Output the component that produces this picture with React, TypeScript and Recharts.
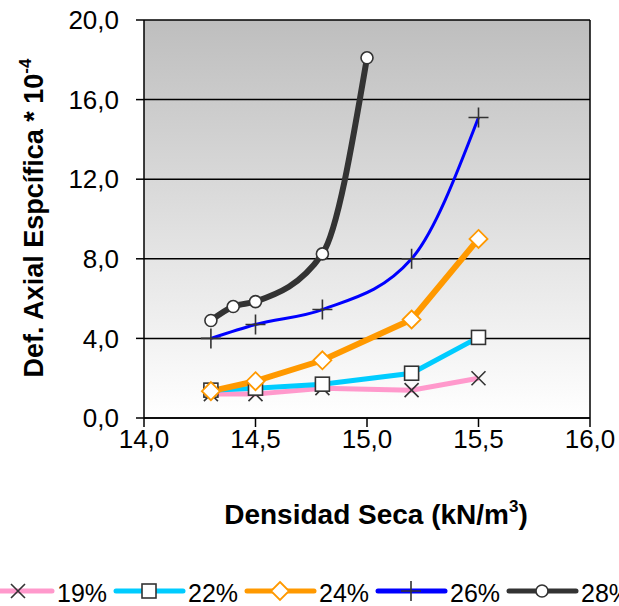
import React from "react";
import {
    LineChart,
    Line,
    XAxis,
    YAxis,
    CartesianGrid,
    ReferenceLine,
    Label,
} from "recharts";

// densidad seca (kN/m3) for each humidity series
const densities = [14.3, 14.5, 14.8, 15.2, 15.5];
const densities28 = [14.3, 14.4, 14.5, 14.8, 15.0];

// def. axial especifica * 10^-4
const def19 = [1.2, 1.2, 1.5, 1.4, 2.0];
const def22 = [1.4, 1.5, 1.7, 2.25, 4.05];
const def24 = [1.35, 1.85, 2.9, 4.95, 9.0];
const def26 = [4.0, 4.7, 5.45, 8.0, 15.1];
const def28 = [4.9, 5.6, 5.85, 8.25, 18.1];

const xTicks = [14, 14.5, 15, 15.5, 16];
const yTicks = [0, 4, 8, 12, 16, 20];
const seriesNames = ["19%", "22%", "24%", "26%", "28%"];

const FONT = "'Liberation Sans', Arial, sans-serif";
const DARK = "#333333";

const toPoints = (xs: number[], ys: number[]) => xs.map((x, i) => ({ x, y: ys[i] }));

const fmt = (v: number) => v.toFixed(1).replace(".", ",");

type MarkerKind = "x" | "square" | "diamond" | "plus" | "circle";

function Marker({ kind, cx, cy, color }: { kind: MarkerKind; cx: number; cy: number; color: string }) {
    switch (kind) {
        case "x":
            return (
                <path
                    d={`M${cx - 7},${cy - 7}L${cx + 7},${cy + 7}M${cx - 7},${cy + 7}L${cx + 7},${cy - 7}`}
                    stroke={DARK}
                    strokeWidth={1.6}
                />
            );
        case "square":
            return <rect x={cx - 7} y={cy - 7} width={14} height={14} fill="#fff" stroke={DARK} strokeWidth={1.6} />;
        case "diamond":
            return (
                <path
                    d={`M${cx},${cy - 9}L${cx + 9},${cy}L${cx},${cy + 9}L${cx - 9},${cy}Z`}
                    fill="#fff"
                    stroke={color}
                    strokeWidth={1.8}
                />
            );
        case "plus":
            return (
                <path
                    d={`M${cx - 10},${cy}L${cx + 10},${cy}M${cx},${cy - 10}L${cx},${cy + 10}`}
                    stroke={DARK}
                    strokeWidth={1.6}
                />
            );
        default:
            return <circle cx={cx} cy={cy} r={6} fill="#fff" stroke={DARK} strokeWidth={1.6} />;
    }
}

const dotFor = (kind: MarkerKind, color: string) => (props: any) => (
    <Marker key={`${kind}-${props.index}`} kind={kind} cx={props.cx} cy={props.cy} color={color} />
);

const SERIES = [
    { name: seriesNames[0], data: toPoints(densities, def19), color: "#FF99CC", width: 5, kind: "x" as MarkerKind, smooth: false },
    { name: seriesNames[1], data: toPoints(densities, def22), color: "#00CCFF", width: 5, kind: "square" as MarkerKind, smooth: false },
    { name: seriesNames[2], data: toPoints(densities, def24), color: "#FF9900", width: 6, kind: "diamond" as MarkerKind, smooth: false },
    { name: seriesNames[3], data: toPoints(densities, def26), color: "#0000FF", width: 3, kind: "plus" as MarkerKind, smooth: true },
    { name: seriesNames[4], data: toPoints(densities28, def28), color: DARK, width: 6, kind: "circle" as MarkerKind, smooth: true },
];

function XTitle() {
    return (
        <text x={376} y={524} textAnchor="middle" fontFamily={FONT} fontSize={28} fontWeight="bold" fill="#000">
            Densidad Seca (kN/m
            <tspan fontSize={17} dy={-12}>3</tspan>
            <tspan dy={12}>)</tspan>
        </text>
    );
}

function YTitle() {
    return (
        <text
            x={43}
            y={218}
            transform="rotate(-90 43 218)"
            textAnchor="middle"
            fontFamily={FONT}
            fontSize={27}
            fontWeight="bold"
            fill="#000"
        >
            Def. Axial Espcífica * 10
            <tspan fontSize={17} dy={-12}>-4</tspan>
        </text>
    );
}

function ChartLegend() {
    return (
        <svg width={619} height={46} style={{ position: "absolute", left: 0, top: 560 }}>
            {SERIES.map((s, i) => {
                const x0 = -15 + 131 * i;
                return (
                    <g key={s.name}>
                        <line x1={x0} y1={31} x2={x0 + 67} y2={31} stroke={s.color} strokeWidth={5} strokeLinecap="round" />
                        <Marker kind={s.kind} cx={x0 + 33} cy={31} color={s.color} />
                        <text x={x0 + 72} y={42} fontFamily={FONT} fontSize={25} fill="#000">
                            {s.name}
                        </text>
                    </g>
                );
            })}
        </svg>
    );
}

export default function App() {
    const axisTick = { fill: "#000", fontSize: 26, fontFamily: FONT };
    return (
        <div style={{ position: "absolute", left: 0, top: 0, width: 619, height: 606, background: "#fff" }}>
            <LineChart width={619} height={606} margin={{ top: 20, right: 29, bottom: 0, left: 0 }}>
                <defs>
                    <linearGradient id="plotBg" x1="0" y1="0" x2="0" y2="1">
                        <stop offset="0%" stopColor="#BEBEBE" />
                        <stop offset="100%" stopColor="#FFFFFF" />
                    </linearGradient>
                </defs>
                <CartesianGrid
                    vertical={false}
                    stroke="#000"
                    strokeWidth={1.5}
                    fill="url(#plotBg)"
                    fillOpacity={1}
                />
                <XAxis
                    type="number"
                    dataKey="x"
                    domain={[14, 16]}
                    ticks={xTicks}
                    tickFormatter={fmt}
                    tick={axisTick}
                    tickSize={9}
                    tickMargin={3}
                    height={188}
                    stroke="#000"
                    strokeWidth={1.5}
                    allowDuplicatedCategory={false}
                >
                    <Label content={() => <XTitle />} />
                </XAxis>
                <YAxis
                    type="number"
                    dataKey="y"
                    domain={[0, 20]}
                    ticks={yTicks}
                    tickFormatter={fmt}
                    tick={axisTick}
                    tickSize={8}
                    tickMargin={17}
                    width={144}
                    stroke="#000"
                    strokeWidth={1.5}
                >
                    <Label content={() => <YTitle />} />
                </YAxis>
                <ReferenceLine x={16} stroke="#000" strokeWidth={1.5} />
                {SERIES.map((s) => (
                    <Line
                        key={s.name}
                        data={s.data}
                        dataKey="y"
                        name={s.name}
                        type={s.smooth ? "monotone" : "linear"}
                        stroke={s.color}
                        strokeWidth={s.width}
                        dot={dotFor(s.kind, s.color)}
                        activeDot={false}
                        isAnimationActive={false}
                    />
                ))}
            </LineChart>
            <ChartLegend />
        </div>
    );
}
